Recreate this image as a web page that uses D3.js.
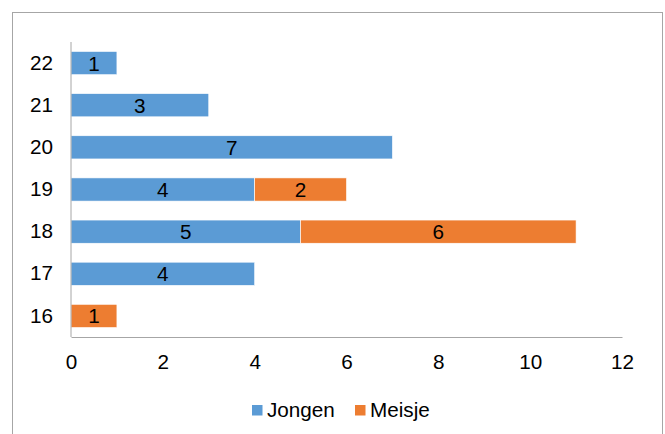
<!DOCTYPE html>
<html>
<head>
<meta charset="utf-8">
<script src="https://cdn.jsdelivr.net/npm/d3@7"></script>
<style>
  body { margin: 0; background: #fff; }
  svg { font-family: "Liberation Sans", Arial, sans-serif; }
</style>
</head>
<body>
<svg id="chart" width="665" height="434"></svg>
<script>
const ages = ['22', '21', '20', '19', '18', '17', '16'];
const jongen = [1, 3, 7, 4, 5, 4, 0];
const meisje = [0, 0, 0, 2, 6, 0, 1];
const xTicks = [0, 2, 4, 6, 8, 10, 12];
const seriesNames = ['Jongen', 'Meisje'];
const seriesColors = ['#5B9BD5', '#ED7D31'];
const fontSize = 20.7;

const svg = d3.select('#chart');

// frame
svg.append('rect')
  .attr('x', 12.5).attr('y', 12.5)
  .attr('width', 650).attr('height', 440)
  .attr('fill', 'none')
  .attr('stroke', '#a6a6a6');

const x = d3.scaleLinear().domain([0, 12]).range([71, 622]);
const y = d3.scaleBand().domain(ages).range([42, 337]).paddingInner(0.45).paddingOuter(0.225);

const rows = ages.map((a, i) => ({ age: a, Jongen: jongen[i], Meisje: meisje[i] }));
const stack = d3.stack().keys(seriesNames)(rows);

stack.forEach((layer, k) => {
  const g = svg.append('g');
  layer.forEach(d => {
    const v = d[1] - d[0];
    if (v <= 0) return;
    g.append('rect')
      .attr('x', x(d[0]))
      .attr('y', y(d.data.age))
      .attr('width', x(d[1]) - x(d[0]))
      .attr('height', y.bandwidth())
      .attr('fill', seriesColors[k])
      .attr('stroke', '#fff')
      .attr('stroke-width', 0.6);
    g.append('text')
      .attr('x', (x(d[0]) + x(d[1])) / 2)
      .attr('y', y(d.data.age) + y.bandwidth() / 2)
      .attr('dy', '0.36em')
      .attr('text-anchor', 'middle')
      .attr('font-size', fontSize)
      .attr('fill', '#000')
      .text(v);
  });
});

// axes
const yAxis = svg.append('g')
  .attr('transform', 'translate(71,0)')
  .call(d3.axisLeft(y).tickSize(0).tickPadding(18));
yAxis.attr('font-size', fontSize).attr('font-family', null);
yAxis.select('.domain').attr('stroke', '#a6a6a6').attr('d', 'M0,42V337');
yAxis.selectAll('text').attr('fill', '#000');

const xAxis = svg.append('g')
  .attr('transform', 'translate(0,337)')
  .call(d3.axisBottom(x).tickValues(xTicks).tickSize(0).tickPadding(17));
xAxis.attr('font-size', fontSize).attr('font-family', null);
xAxis.select('.domain').attr('stroke', '#a6a6a6');
xAxis.selectAll('text').attr('fill', '#000');

// legend
const legendX = [252, 355];
seriesNames.forEach((name, i) => {
  svg.append('rect')
    .attr('x', legendX[i]).attr('y', 405)
    .attr('width', 10.5).attr('height', 10.5)
    .attr('fill', seriesColors[i]);
  svg.append('text')
    .attr('x', legendX[i] + 15).attr('y', 417)
    .attr('font-size', fontSize)
    .text(name);
});
</script>
</body>
</html>
